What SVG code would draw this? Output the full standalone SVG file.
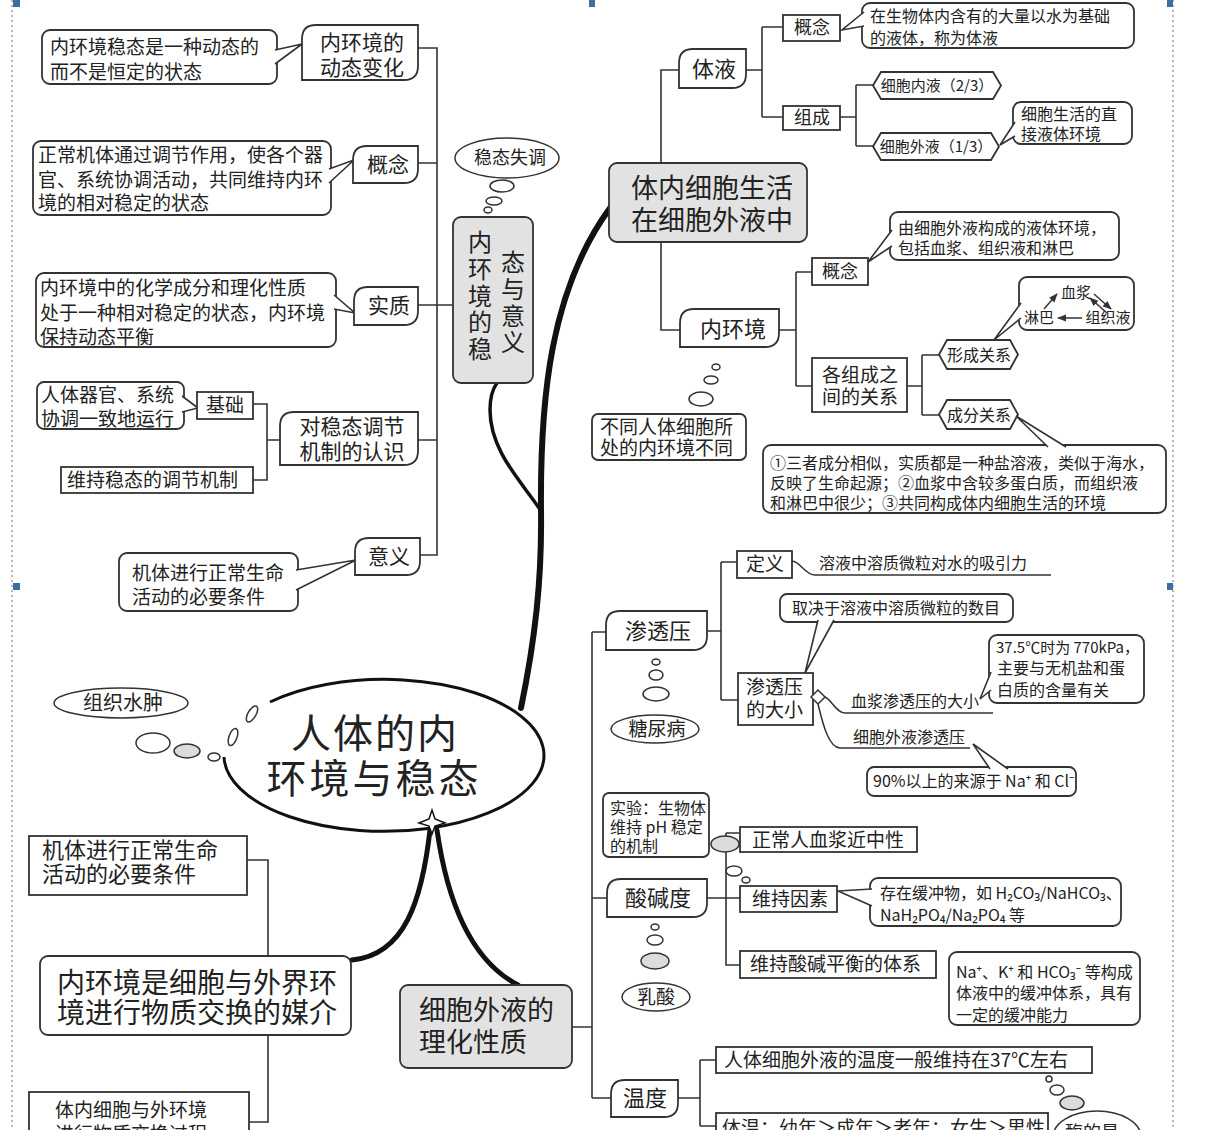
<svg xmlns="http://www.w3.org/2000/svg" width="1210" height="1130" viewBox="0 0 1210 1130">
<style>
.t{font-family:"Noto Sans CJK SC","Noto Sans","DejaVu Sans",sans-serif;fill:#222}
.m{text-anchor:middle}
.s15{font-size:15px}.s16{font-size:16px}.s18{font-size:18px}.s19{font-size:19px}.s20{font-size:20px}.s21{font-size:21px}.s22{font-size:22px}.s24{font-size:24px}.s27{font-size:27px}.s28{font-size:28px}.s40{font-size:40px}
.ln{stroke:#333;stroke-width:1.6;fill:none}
.bx{fill:#fff;stroke:#333;stroke-width:1.8}
.gb{fill:#e2e2e2;stroke:#333;stroke-width:1.8}
.gf{fill:#dcdcdc;stroke:#333;stroke-width:1.5}
.bb{fill:#fff;stroke:#333;stroke-width:1.5}
.ptr{fill:#fff;stroke:#333;stroke-width:1.6;stroke-linejoin:miter}
.thick{stroke:#111;fill:none;stroke-linecap:round}
.ul{stroke:#333;stroke-width:1.5;fill:none}
.brd{stroke:#888;stroke-width:1.2;stroke-dasharray:2 3;fill:none}
</style>
<defs>
<marker id="ah" viewBox="0 0 10 10" refX="9" refY="5" markerWidth="6" markerHeight="6" orient="auto"><path d="M0 1 L10 5 L0 9 Z" fill="#333"/></marker>
</defs>
<rect width="1210" height="1130" fill="#fff"/>
<g id="page">
<path class="brd" d="M12 0 V1130 M1173 0 V1130"/>
<rect x="13" y="0" width="7" height="7" fill="#3a6ea5"/>
<rect x="13" y="583" width="7" height="7" fill="#3a6ea5"/>
<rect x="589" y="0" width="6" height="7" fill="#3a6ea5"/>
<rect x="1167" y="0" width="6" height="7" fill="#3a6ea5"/>
<rect x="1167" y="583" width="6" height="7" fill="#3a6ea5"/>
</g>
<g id="connectors">
<path class="ln" d="M418 48 H437 V555 H420 M418 163 H437 M418 305 H437 M418 440 H437 M437 305 H453"/>
<path class="ln" d="M253 404 H267 V480 H253 M267 440 H280"/>
<path class="ln" d="M679 70 H661 V330 H680 M746 70 H762 M762 27 V117 M762 27 H783 M762 117 H783 M840 117 H856 M856 85 V146 M856 85 H873 M856 146 H873"/>
<path class="ln" d="M779 330 H796 M796 272 V386 M796 272 H812 M796 386 H812 M907 386 H922 M922 355 V415 M922 355 H939 M922 415 H939"/>
<path class="ln" d="M592 632 V1098 M592 632 H606 M592 898 H607 M592 1098 H611 M572 1027 H592"/>
<path class="ln" d="M707 631 H721 M721 562 V700 M721 562 H737 M721 700 H738"/>
<path class="ln" d="M707 898 H740 M726 833 V965 H740 M726 833 H740"/>
<path class="ln" d="M678 1098 H700 M700 1060 V1126 M700 1060 H716 M700 1126 H716"/>
<path class="ln" d="M247 860 H268 V1122 H249"/>
<path class="thick" stroke-width="6" d="M521 708 C535 640 542 580 541 510 C540 400 550 290 610 208"/>
<path class="thick" stroke-width="3.5" d="M539 508 C520 480 490 450 490 410 C490 395 494 387 497 383"/>
<path class="thick" stroke-width="5" d="M430 830 C422 900 405 955 352 960"/>
<path class="thick" stroke-width="5" d="M437 830 C447 900 470 960 518 985"/>
<path class="ul" d="M792 561 C800 561 805 575 815 575 L1051 575"/>
<path class="ul" d="M825 697 C832 700 836 713 845 713 L993 713"/>
<path class="ul" d="M818 704 C822 720 828 748 840 748 L970 748"/>
</g>

<g id="center">
<path d="M270 702 A160 76 0 1 1 224 757" fill="#fff" stroke="#111" stroke-width="3"/>
<ellipse cx="252" cy="714" rx="4" ry="9" transform="rotate(30 252 714)" class="bb"/>
<ellipse cx="233" cy="737" rx="4" ry="9" transform="rotate(20 233 737)" class="bb"/>
<path d="M432 810 L435 819 L445 823 L435 826 L432 834 L429 826 L419 823 L429 819 Z" fill="#fff" stroke="#111" stroke-width="1.5"/>
<text class="t s40 m"><tspan x="375" y="748" letter-spacing="2">人体的内</tspan><tspan x="374" y="793" letter-spacing="3">环境与稳态</tspan></text>
</g>

<g id="n-dynamic">
<rect class="bx" x="42" y="30" width="235" height="54" rx="8"/>
<path class="ptr" d="M275 50 L302 44 L275 64"/>
<text class="t s19"><tspan x="50" y="54">内环境稳态是一种动态的</tspan><tspan x="50" y="79">而不是恒定的状态</tspan></text>
<path class="bx" d="M302 39 Q302 25 316 25 H418 V66 Q418 80 404 80 H302 Z"/>
<text class="t s21 m"><tspan x="362" y="50">内环境的</tspan><tspan x="362" y="75">动态变化</tspan></text>
</g>
<g id="n-concept-left">
<rect class="bx" x="33" y="141" width="298" height="74" rx="8"/>
<path class="ptr" d="M329 169 L354 160 L329 183"/>
<text class="t s19"><tspan x="38" y="162">正常机体通过调节作用，使各个器</tspan><tspan x="38" y="187">官、系统协调活动，共同维持内环</tspan><tspan x="38" y="210">境的相对稳定的状态</tspan></text>
<path class="bx" d="M353 160 Q353 146 367 146 H418 V169 Q418 183 404 183 H353 Z"/>
<text class="t s21 m" x="388" y="172">概念</text>
</g>
<g id="n-essence">
<rect class="bx" x="36" y="273" width="300" height="74" rx="8"/>
<path class="ptr" d="M334 295 L355 313 L334 309"/>
<text class="t s19"><tspan x="40" y="295">内环境中的化学成分和理化性质</tspan><tspan x="40" y="320">处于一种相对稳定的状态，内环境</tspan><tspan x="40" y="344">保持动态平衡</tspan></text>
<path class="bx" d="M354 301 Q354 287 368 287 H418 V311 Q418 325 404 325 H354 Z"/>
<text class="t s21 m" x="389" y="313">实质</text>
</g>
<g id="n-mechanism">
<rect class="bx" x="37" y="382" width="147" height="47" rx="7"/>
<path class="ptr" d="M182 396 L198 408 L182 412"/>
<text class="t s19"><tspan x="41" y="402">人体器官、系统</tspan><tspan x="41" y="426">协调一致地运行</tspan></text>
<rect class="bx" x="197" y="392" width="56" height="27"/>
<text class="t s19 m" x="225" y="412">基础</text>
<rect class="bx" x="61" y="467" width="192" height="26"/>
<text class="t s19" x="67" y="487">维持稳态的调节机制</text>
<path class="bx" d="M280 426 Q280 412 294 412 H418 V451 Q418 465 404 465 H280 Z"/>
<text class="t s21 m"><tspan x="352" y="434">对稳态调节</tspan><tspan x="352" y="459">机制的认识</tspan></text>
</g>
<g id="n-meaning">
<rect class="bx" x="119" y="553" width="179" height="58" rx="8"/>
<path class="ptr" d="M296 570 L356 560 L296 590"/>
<text class="t s19"><tspan x="132" y="580">机体进行正常生命</tspan><tspan x="132" y="604">活动的必要条件</tspan></text>
<path class="bx" d="M355 552 Q355 538 369 538 H420 V561 Q420 575 406 575 H355 Z"/>
<text class="t s21 m" x="389" y="564">意义</text>
</g>
<g id="n-homeostasis">
<ellipse class="bb" cx="507" cy="158" rx="52" ry="20"/>
<text class="t s18 m" x="510" y="164">稳态失调</text>
<ellipse class="bb" cx="502" cy="186" rx="12" ry="6"/>
<ellipse class="bb" cx="494" cy="201" rx="8" ry="4"/>
<ellipse class="bb" cx="488" cy="210" rx="4" ry="3"/>
<rect class="gb" x="453" y="217" width="80" height="166" rx="8"/>
<text class="t s24 m"><tspan x="480" y="251">内</tspan><tspan x="480" y="278">环</tspan><tspan x="480" y="305">境</tspan><tspan x="480" y="331">的</tspan><tspan x="480" y="358">稳</tspan><tspan x="513" y="271">态</tspan><tspan x="513" y="298">与</tspan><tspan x="513" y="325">意</tspan><tspan x="513" y="351">义</tspan></text>
</g>

<g id="n-cells">
<rect class="gb" x="609" y="163" width="198" height="79" rx="8"/>
<text class="t s27 m"><tspan x="712" y="198">体内细胞生活</tspan><tspan x="712" y="230">在细胞外液中</tspan></text>
</g>
<g id="n-bodyfluid">
<path class="bx" d="M679 63 Q679 49 693 49 H746 V74 Q746 88 732 88 H679 Z"/>
<text class="t s22 m" x="714" y="77">体液</text>
<rect class="bx" x="783" y="15" width="57" height="26"/>
<text class="t s18 m" x="812" y="34">概念</text>
<rect class="bx" x="862" y="3" width="272" height="45" rx="8"/>
<path class="ptr" d="M864 12 L842 30 L864 26"/>
<text class="t s16"><tspan x="870" y="22">在生物体内含有的大量以水为基础</tspan><tspan x="870" y="44">的液体，称为体液</tspan></text>
<rect class="bx" x="783" y="106" width="57" height="24"/>
<text class="t s18 m" x="812" y="124">组成</text>
<path class="bx" d="M873 85.5 L881 72 H993 L1001 85.5 L993 99 H881 Z"/>
<text class="t s15 m" x="937" y="91">细胞内液（2/3）</text>
<path class="bx" d="M873 146.5 L881 133 H991 L999 146.5 L991 160 H881 Z"/>
<text class="t s15 m" x="936" y="152">细胞外液（1/3）</text>
<rect class="bx" x="1013" y="102" width="119" height="42" rx="8"/>
<path class="ptr" d="M1015 122 L1000 145 L1015 136"/>
<text class="t s16"><tspan x="1021" y="120">细胞生活的直</tspan><tspan x="1021" y="140">接液体环境</tspan></text>
</g>
<g id="n-internal">
<path class="bx" d="M680 323 Q680 309 694 309 H779 V333 Q779 347 765 347 H680 Z"/>
<text class="t s22 m" x="733" y="337">内环境</text>
<ellipse class="bb" cx="716" cy="367" rx="4" ry="3"/>
<ellipse class="bb" cx="711" cy="380" rx="7" ry="4"/>
<ellipse class="bb" cx="701" cy="399" rx="12" ry="7"/>
<rect class="bx" x="592" y="414" width="154" height="46" rx="6"/>
<text class="t s19"><tspan x="600" y="434">不同人体细胞所</tspan><tspan x="600" y="455">处的内环境不同</tspan></text>
<rect class="bx" x="812" y="258" width="56" height="27"/>
<text class="t s18 m" x="840" y="278">概念</text>
<rect class="bx" x="890" y="212" width="229" height="48" rx="8"/>
<path class="ptr" d="M892 230 L868 262 L892 246"/>
<text class="t s16"><tspan x="898" y="234">由细胞外液构成的液体环境，</tspan><tspan x="898" y="254">包括血浆、组织液和淋巴</tspan></text>
<rect class="bx" x="812" y="358" width="95" height="54"/>
<text class="t s19 m"><tspan x="860" y="382">各组成之</tspan><tspan x="860" y="404">间的关系</tspan></text>
<path class="bx" d="M939 354.5 L947 340 H1010 L1018 354.5 L1010 369 H947 Z"/>
<text class="t s16 m" x="979" y="361">形成关系</text>
<path class="bx" d="M939 414.5 L947 400 H1010 L1018 414.5 L1010 429 H947 Z"/>
<text class="t s16 m" x="979" y="421">成分关系</text>
<rect class="bx" x="1019" y="277" width="115" height="53" rx="8"/>
<path class="ptr" d="M1021 303 L994 340 L1021 318"/>
<text class="t s15 m"><tspan x="1076" y="298">血浆</tspan><tspan x="1039" y="323">淋巴</tspan><tspan x="1108" y="323">组织液</tspan></text>
<path class="ul" marker-end="url(#ah)" d="M1082 318 H1058"/>
<path class="ul" marker-end="url(#ah)" d="M1044 309 L1057 294"/>
<path class="ul" marker-end="url(#ah)" d="M1094 294 L1111 309"/>
<path class="ul" marker-end="url(#ah)" d="M1107 313 L1090 298"/>
<rect class="bx" x="763" y="445" width="403" height="68" rx="8"/>
<path class="ptr" d="M1048 447 L1016 416 L1066 447"/>
<text class="t s16"><tspan x="770" y="469">①三者成分相似，实质都是一种盐溶液，类似于海水，</tspan><tspan x="770" y="489">反映了生命起源；②血浆中含较多蛋白质，而组织液</tspan><tspan x="770" y="509">和淋巴中很少；③共同构成体内细胞生活的环境</tspan></text>
</g>

<g id="n-osmotic">
<path class="bx" d="M606 625 Q606 611 620 611 H707 V636 Q707 650 693 650 H606 Z"/>
<text class="t s22 m" x="658" y="639">渗透压</text>
<ellipse class="bb" cx="656" cy="662" rx="4" ry="3"/>
<ellipse class="bb" cx="656" cy="675" rx="7" ry="5"/>
<ellipse class="bb" cx="656" cy="694" rx="13" ry="7"/>
<ellipse class="bb" cx="655" cy="729" rx="44" ry="14"/>
<text class="t s19 m" x="657" y="736">糖尿病</text>
<rect class="bx" x="737" y="551" width="55" height="27"/>
<text class="t s19 m" x="765" y="571">定义</text>
<text class="t s16" x="819" y="569">溶液中溶质微粒对水的吸引力</text>
<rect class="bx" x="780" y="594" width="233" height="28" rx="7"/>
<path class="ptr" d="M818 620 L805 673 L834 620"/>
<text class="t s16" x="792" y="614">取决于溶液中溶质微粒的数目</text>
<rect class="bx" x="738" y="673" width="75" height="52"/>
<text class="t s19"><tspan x="746" y="694">渗透压</tspan><tspan x="746" y="717">的大小</tspan></text>
<path d="M818 690 L825 697 L818 704 L811 697 Z" fill="#fff" stroke="#333" stroke-width="1.5"/>
<text class="t s16" x="851" y="707">血浆渗透压的大小</text>
<rect class="bx" x="989" y="635" width="155" height="68" rx="8"/>
<path class="ptr" d="M991 672 L980 699 L991 690"/>
<text class="t s16"><tspan x="996" y="653" font-size="15">37.5℃时为 770kPa，</tspan><tspan x="997" y="674">主要与无机盐和蛋</tspan><tspan x="997" y="696">白质的含量有关</tspan></text>
<text class="t s16" x="853" y="743">细胞外液渗透压</text>
<rect class="bx" x="867" y="767" width="209" height="29" rx="7"/>
<path class="ptr" d="M990 769 L973 744 L1008 769"/>
<text class="t s16" x="873" y="787">90%以上的来源于 Na⁺ 和 Cl⁻</text>
</g>

<g id="n-ph">
<rect class="bx" x="603" y="793" width="106" height="64" rx="6"/>
<text class="t s16"><tspan x="610" y="814">实验：生物体</tspan><tspan x="610" y="833">维持 pH 稳定</tspan><tspan x="610" y="852">的机制</tspan></text>
<ellipse class="gf" cx="725" cy="844" rx="14" ry="8"/>
<rect class="bx" x="740" y="827" width="177" height="25"/>
<text class="t s19" x="752" y="847">正常人血浆近中性</text>
<ellipse class="bb" cx="734" cy="871" rx="8" ry="5"/>
<ellipse class="bb" cx="746" cy="880" rx="4" ry="3"/>
<path class="bx" d="M607 893 Q607 879 621 879 H707 V903 Q707 917 693 917 H607 Z"/>
<text class="t s22 m" x="658" y="906">酸碱度</text>
<ellipse class="bb" cx="655" cy="927" rx="4" ry="3"/>
<ellipse class="bb" cx="655" cy="940" rx="8" ry="5"/>
<ellipse class="gf" cx="655" cy="961" rx="14" ry="8"/>
<ellipse class="bb" cx="656" cy="997" rx="34" ry="14"/>
<text class="t s19 m" x="656" y="1004">乳酸</text>
<rect class="bx" x="740" y="886" width="97" height="26"/>
<text class="t s19" x="752" y="906">维持因素</text>
<rect class="bx" x="870" y="878" width="251" height="48" rx="8"/>
<path class="ptr" d="M872 889 L838 891 L872 906"/>
<text class="t s16"><tspan x="880" y="899">存在缓冲物，如 H₂CO₃/NaHCO₃、</tspan><tspan x="880" y="921">NaH₂PO₄/Na₂PO₄ 等</tspan></text>
<rect class="bx" x="740" y="951" width="196" height="27"/>
<text class="t s19" x="750" y="971">维持酸碱平衡的体系</text>
<rect class="bx" x="949" y="952" width="191" height="73" rx="8"/>
<text class="t s16"><tspan x="956" y="978">Na⁺、K⁺ 和 HCO₃⁻ 等构成</tspan><tspan x="956" y="999">体液中的缓冲体系，具有</tspan><tspan x="956" y="1021">一定的缓冲能力</tspan></text>
</g>

<g id="n-temperature">
<path class="bx" d="M611 1094 Q611 1080 625 1080 H678 V1103 Q678 1117 664 1117 H611 Z"/>
<text class="t s22 m" x="645" y="1106">温度</text>
<rect class="bx" x="716" y="1047" width="376" height="26"/>
<text class="t s19" x="724" y="1067">人体细胞外液的温度一般维持在37℃左右</text>
<rect class="bx" x="716" y="1113" width="332" height="30"/>
<text class="t s19" x="722" y="1135">体温：幼年＞成年＞老年；女生＞男性</text>
<ellipse class="bb" cx="1049" cy="1079" rx="3" ry="3"/>
<ellipse class="bb" cx="1057" cy="1090" rx="7" ry="5"/>
<ellipse class="gf" cx="1072" cy="1103" rx="12" ry="7"/>
<ellipse class="bb" cx="1097" cy="1137" rx="44" ry="26"/>
<text class="t s18 m" x="1092" y="1139">酶的最</text>
</g>

<g id="n-edema">
<ellipse class="bb" cx="121" cy="703" rx="67" ry="15"/>
<text class="t s20 m" x="123" y="710">组织水肿</text>
<ellipse class="bb" cx="153" cy="743" rx="17" ry="10"/>
<ellipse class="gf" cx="187" cy="751" rx="13" ry="7"/>
<ellipse class="bb" cx="214" cy="757" rx="6" ry="4"/>
</g>

<g id="n-exchange">
<rect class="bx" x="29" y="836" width="218" height="59"/>
<text class="t s22"><tspan x="42" y="858">机体进行正常生命</tspan><tspan x="42" y="882">活动的必要条件</tspan></text>
<rect class="bx" x="40" y="956" width="311" height="79" rx="8"/>
<text class="t s28"><tspan x="57" y="993">内环境是细胞与外界环</tspan><tspan x="57" y="1023">境进行物质交换的媒介</tspan></text>
<rect class="bx" x="29" y="1092" width="220" height="60"/>
<text class="t s19"><tspan x="55" y="1117">体内细胞与外环境</tspan><tspan x="55" y="1141">进行物质交换过程</tspan></text>
</g>
<g id="n-physchem">
<rect class="gb" x="400" y="985" width="172" height="83" rx="8"/>
<text class="t s27"><tspan x="419" y="1020">细胞外液的</tspan><tspan x="419" y="1052">理化性质</tspan></text>
</g>
</svg>
